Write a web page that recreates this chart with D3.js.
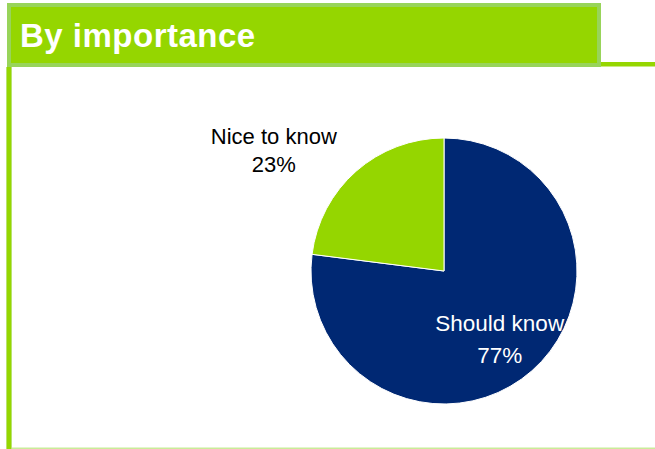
<!DOCTYPE html>
<html>
<head>
<meta charset="utf-8">
<script src="https://cdn.jsdelivr.net/npm/d3@7"></script>
<style>
  html, body { margin: 0; padding: 0; background: #ffffff; }
  svg { display: block; }
  text { font-family: "Liberation Sans", Arial, Helvetica, sans-serif; }
</style>
</head>
<body>
<svg id="chart" width="655" height="449"></svg>
<script>
// Share of items by importance
const categories = ["Should know", "Nice to know"];
const shares = [77, 23];
const shareLabels = ["77%", "23%"];
const sliceColors = ["#002873", "#95d600"];
const labelColors = ["#ffffff", "#000000"];
const title = "By importance";

const W = 655, H = 449;
const svg = d3.select("#chart");

// Frame: header bar, right rule, left rule, bottom rule
svg.append("rect").attr("x", 9).attr("y", 5).attr("width", 590).attr("height", 60)
  .attr("fill", "#95d600").attr("stroke", "#98d45a").attr("stroke-width", 4);
svg.append("rect").attr("x", 601).attr("y", 62).attr("width", W - 601).attr("height", 4.5)
  .attr("fill", "#95d600");
svg.append("rect").attr("x", 6).attr("y", 67).attr("width", 6).attr("height", H - 67)
  .attr("fill", "#b9e36f");
svg.append("rect").attr("x", 7).attr("y", 67).attr("width", 4).attr("height", H - 67)
  .attr("fill", "#95d600");
svg.append("rect").attr("x", 12).attr("y", 447.5).attr("width", W - 12).attr("height", 1.5)
  .attr("fill", "#c9ec99");

svg.append("text")
  .attr("x", 20).attr("y", 47)
  .attr("fill", "#ffffff")
  .attr("font-size", 33).attr("font-weight", "bold")
  .attr("letter-spacing", 0.5)
  .text(title);

// Pie
const cx = 444, cy = 271, r = 133;
const data = categories.map((c, i) => ({ name: c, value: shares[i], label: shareLabels[i], i }));
const pie = d3.pie().value(d => d.value).sort(null).startAngle(0).endAngle(2 * Math.PI);
const arcs = pie(data);
const arc = d3.arc().innerRadius(0).outerRadius(r);

const g = svg.append("g").attr("transform", `translate(${cx},${cy})`);
g.selectAll("path.slice").data(arcs).enter().append("path")
  .attr("class", "slice")
  .attr("d", arc)
  .attr("fill", d => sliceColors[d.data.i])
  .attr("stroke", "#ffffff")
  .attr("stroke-width", 1);

// Label placement: inside label on the big slice, outside label pulled up-left of the small one
const placement = [
  { radius: 0.66 * r, angleShift: 2 * Math.PI / 180, lineGap: 32, size: 22.5 },
  { radius: 1.57 * r, angleShift: -13.2 * Math.PI / 180, lineGap: 28, size: 22 }
];

arcs.forEach(a => {
  const p = placement[a.data.i];
  const mid = (a.startAngle + a.endAngle) / 2 + p.angleShift;
  const x = p.radius * Math.sin(mid);
  const y = -p.radius * Math.cos(mid);
  const t = g.append("text")
    .attr("text-anchor", "middle")
    .attr("fill", labelColors[a.data.i])
    .attr("font-size", p.size);
  t.append("tspan").attr("x", x).attr("y", y - p.lineGap / 2 + 8).text(a.data.name);
  t.append("tspan").attr("x", x).attr("y", y + p.lineGap / 2 + 8).text(a.data.label);
});
</script>
</body>
</html>
